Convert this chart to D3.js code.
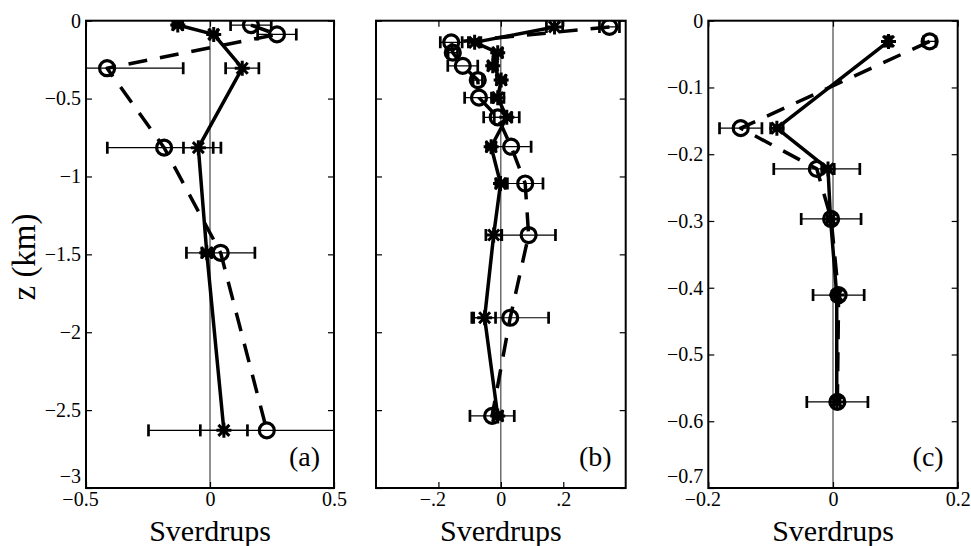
<!DOCTYPE html>
<html><head><meta charset="utf-8">
<script src="https://cdn.jsdelivr.net/npm/d3@7"></script>
<style>
body{margin:0;background:#fff}
svg{display:block;background:#fff}
</style>
</head><body>
<svg id="chart" width="971" height="546"></svg>
<script>
// ---------- DATA ----------
// Panel (a)
const aDepth      = [-0.028, -0.088, -0.305, -0.815, -1.49, -2.63];
const aStar       = [-0.13, 0.015, 0.13, -0.047, -0.013, 0.056];
const aStarErr    = [0.02, 0.015, 0.067, 0.06, 0.02, 0.095];
const aCircle     = [0.165, 0.27, -0.415, -0.185, 0.043, 0.229];
const aCircleErr  = [0.082, 0.078, 0.307, 0.229, 0.138, 0.477];
// Panel (b)
const bDepth      = [-0.04, -0.139, -0.205, -0.29, -0.381, -0.494, -0.62, -0.809, -1.045, -1.376, -1.907, -2.537];
const bStar       = [0.172, -0.084, -0.01, -0.026, 0.001, -0.01, 0.019, -0.031, -0.001, -0.023, -0.052, -0.01];
const bStarErr    = [0.026, 0.02, 0.015, 0.015, 0.015, 0.02, 0.04, 0.015, 0.015, 0.025, 0.035, 0.015];
const bCircle     = [0.348, -0.159, -0.154, -0.122, -0.074, -0.07, -0.01, 0.033, 0.078, 0.089, 0.030, -0.028];
const bCircleErr  = [0.032, 0.035, 0.015, 0.048, 0.015, 0.046, 0.045, 0.064, 0.057, 0.086, 0.123, 0.071];
// Panel (c)
const cDepth      = [-0.031, -0.161, -0.222, -0.297, -0.411, -0.571];
const cStar       = [0.089, -0.09, -0.008, -0.004, 0.006, 0.006];
const cStarErr    = [0.004, 0.01, 0.01, 0.005, 0.005, 0.005];
const cCircle     = [0.155, -0.148, -0.026, -0.003, 0.009, 0.007];
const cCircleErr  = [0.01, 0.034, 0.069, 0.048, 0.041, 0.049];

// Ticks
const aXTicks = [-0.5, 0, 0.5];
const aXLabels = ["\u22120.5", "0", "0.5"];
const bXTicks = [-0.2, 0, 0.2];
const bXLabels = ["\u2212.2", "0", ".2"];
const cXTicks = [-0.2, 0, 0.2];
const cXLabels = ["\u22120.2", "0", "0.2"];
const abYTicks = [0, -0.5, -1, -1.5, -2, -2.5, -3];
const aYLabels = ["0", "\u22120.5", "\u22121", "\u22121.5", "\u22122", "\u22122.5", "\u22123"];
const bYLabels = ["", "", "", "", "", "", ""];
const cYTicks = [0, -0.1, -0.2, -0.3, -0.4, -0.5, -0.6, -0.7];
const cYLabels = ["0", "\u22120.1", "\u22120.2", "\u22120.3", "\u22120.4", "\u22120.5", "\u22120.6", "\u22120.7"];

const panelNames = ["(a)", "(b)", "(c)"];
const xLabelText = "Sverdrups";
const yLabelText = "z (km)";

// ---------- LAYOUT ----------
const SERIF = "'Liberation Serif', 'Times New Roman', Times, 'Nimbus Roman', FreeSerif, Tinos, 'Noto Serif', 'DejaVu Serif', serif";
const TOP = 20.7, BOTTOM = 488;
const panels = [
  {name: panelNames[0], depth: aDepth, star: aStar, starErr: aStarErr, circle: aCircle, circleErr: aCircleErr,
   xDomain: [-0.5, 0.5], yDomain: [-3, 0], xTicks: aXTicks, xLabels: aXLabels, yTicks: abYTicks, yLabels: aYLabels,
   left: 86, right: 334},
  {name: panelNames[1], depth: bDepth, star: bStar, starErr: bStarErr, circle: bCircle, circleErr: bCircleErr,
   xDomain: [-0.4, 0.4], yDomain: [-3, 0], xTicks: bXTicks, xLabels: bXLabels, yTicks: abYTicks, yLabels: bYLabels,
   left: 376, right: 625.7},
  {name: panelNames[2], depth: cDepth, star: cStar, starErr: cStarErr, circle: cCircle, circleErr: cCircleErr,
   xDomain: [-0.2, 0.2], yDomain: [-0.7, 0], xTicks: cXTicks, xLabels: cXLabels, yTicks: cYTicks, yLabels: cYLabels,
   left: 708.3, right: 957.7}
];

const svg = d3.select("#chart");
const defs = svg.append("defs");
const FONT_TICK = 20;

function asteriskPath(a, d) {
  return `M${-a},0H${a}M0,${-a}V${a}M${-d},${-d}L${d},${d}M${-d},${d}L${d},${-d}`;
}

panels.forEach((p, pi) => {
  const x = d3.scaleLinear().domain(p.xDomain).range([p.left, p.right]);
  const y = d3.scaleLinear().domain(p.yDomain).range([BOTTOM, TOP]);
  const clipId = "clip" + pi;
  defs.append("clipPath").attr("id", clipId).append("rect")
    .attr("x", p.left).attr("y", TOP).attr("width", p.right - p.left).attr("height", BOTTOM - TOP);

  const g = svg.append("g").attr("clip-path", `url(#${clipId})`);

  g.append("line")
    .attr("x1", x(0)).attr("x2", x(0)).attr("y1", y(p.yDomain[0])).attr("y2", y(p.yDomain[1]))
    .attr("stroke", "#222").attr("stroke-width", 1);

  function drawSeries(vals, errs, dashed, marker) {
    const pts = vals.map((v, i) => ({v, e: errs[i], z: p.depth[i]}));
    const eg = g.append("g");
    pts.forEach(d => {
      const x0 = x(d.v - d.e), x1 = x(d.v + d.e), yy = y(d.z);
      eg.append("line").attr("x1", x0).attr("x2", x1).attr("y1", yy).attr("y2", yy)
        .attr("stroke", "#000").attr("stroke-width", 1.2);
      [x0, x1].forEach(xx => {
        eg.append("line").attr("x1", xx).attr("x2", xx).attr("y1", yy - 6).attr("y2", yy + 6)
          .attr("stroke", "#000").attr("stroke-width", 2.7);
      });
    });
    const line = d3.line().x(d => x(d.v)).y(d => y(d.z));
    g.append("path").datum(pts).attr("d", line)
      .attr("fill", "none").attr("stroke", "#000").attr("stroke-width", 3.5)
      .attr("stroke-dasharray", dashed ? "19,13" : null)
      .attr("stroke-linejoin", "round");
    const mg = g.append("g");
    pts.forEach(d => {
      if (marker === "circle") {
        mg.append("circle").attr("cx", x(d.v)).attr("cy", y(d.z)).attr("r", 7.5)
          .attr("fill", "none").attr("stroke", "#000").attr("stroke-width", 3.2);
      } else {
        mg.append("path").attr("transform", `translate(${x(d.v)},${y(d.z)})`)
          .attr("d", asteriskPath(7.5, 5.5))
          .attr("fill", "none").attr("stroke", "#000").attr("stroke-width", 3);
      }
    });
  }
  drawSeries(p.circle, p.circleErr, true, "circle");
  drawSeries(p.star, p.starErr, false, "star");

  const styleAxis = sel => {
    sel.select(".domain").remove();
    sel.attr("font-family", SERIF).attr("font-size", FONT_TICK);
    sel.selectAll(".tick line").attr("stroke", "#000").attr("stroke-width", 1.2);
    sel.selectAll(".tick text").style("font-family", SERIF).style("font-size", FONT_TICK + "px").attr("fill", "#000");
  };
  const axB = svg.append("g").attr("transform", `translate(0,${BOTTOM})`)
    .call(d3.axisBottom(x).tickValues(p.xTicks).tickFormat((d, i) => p.xLabels[i]).tickSize(-6).tickSizeOuter(0).tickPadding(4))
    .call(styleAxis);
  axB.selectAll(".tick text").attr("dx", function () { return this.textContent.startsWith("\u2212") ? -6 : 0; });
  svg.append("g").attr("transform", `translate(0,${TOP})`)
    .call(d3.axisTop(x).tickValues(p.xTicks).tickFormat("").tickSize(-6).tickSizeOuter(0)).call(styleAxis);
  const axL = svg.append("g").attr("transform", `translate(${p.left},0)`)
    .call(d3.axisLeft(y).tickValues(p.yTicks).tickFormat((d, i) => p.yLabels[i]).tickSize(-6).tickSizeOuter(0).tickPadding(5))
    .call(styleAxis);
  // lift the bottom-most y label so it clears the x tick labels
  axL.selectAll(".tick").filter(d => d === p.yDomain[0]).select("text").attr("dy", "-0.3em");
  svg.append("g").attr("transform", `translate(${p.right},0)`)
    .call(d3.axisRight(y).tickValues(p.yTicks).tickFormat("").tickSize(-6).tickSizeOuter(0)).call(styleAxis);

  svg.append("rect").attr("x", p.left).attr("y", TOP).attr("width", p.right - p.left).attr("height", BOTTOM - TOP)
    .attr("fill", "none").attr("stroke", "#000").attr("stroke-width", 2);

  svg.append("text").attr("x", p.right - 14).attr("y", 466).attr("text-anchor", "end")
    .style("font-family", SERIF).style("font-size", "28px").attr("fill", "#000").text(p.name);

  svg.append("text").attr("x", (p.left + p.right) / 2).attr("y", 541).attr("text-anchor", "middle")
    .style("font-family", SERIF).style("font-size", "30px").attr("fill", "#000").text(xLabelText);
});

svg.append("text").attr("transform", "translate(35,257) rotate(-90)").attr("text-anchor", "middle")
  .style("font-family", SERIF).style("font-size", "33px").attr("fill", "#000").text(yLabelText);
</script>
</body></html>
